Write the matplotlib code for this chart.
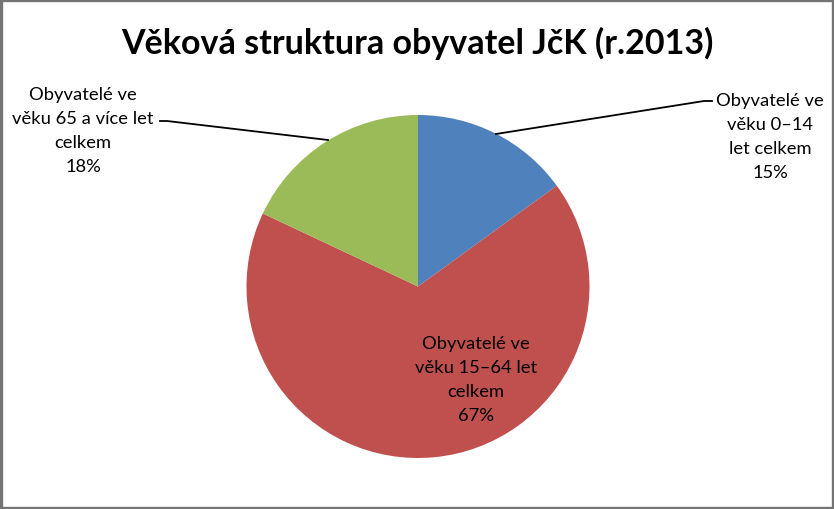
import matplotlib
matplotlib.use('Agg')
import matplotlib.pyplot as plt
from matplotlib.patches import Rectangle

plt.rcParams['font.family'] = ['Lato', 'DejaVu Sans']

title = 'Věková struktura obyvatel JčK (r.2013)'
labels = ['Obyvatelé ve\nvěku 0–14\nlet celkem', 'Obyvatelé ve\nvěku 15–64 let\ncelkem',
          'Obyvatelé ve\nvěku 65 a více let\ncelkem']
shares = [15, 67, 18]
colors = ['#4F81BD', '#C0504D', '#9BBB59']

W, H = 834, 510
fig = plt.figure(figsize=(W / 100, H / 100), dpi=100)
ax = fig.add_axes([0, 0, 1, 1])
ax.set_xlim(0, W)
ax.set_ylim(0, H)
ax.set_aspect('equal')
ax.axis('off')


def py(y):
    # picture rows count from the top
    return H - y


cx, cy, r = 418, 287.5, 171.5
wedges, _ = ax.pie(shares, colors=colors, startangle=90, counterclock=False,
                   center=(cx, py(cy)), radius=r, wedgeprops=dict(linewidth=0))
ax.set_xlim(0, W)
ax.set_ylim(0, H)

fig.text(0.5, py(43) / H, title, ha='center', va='center', fontsize=24.5,
         fontweight='bold', color='black')

pct = ['%d%%' % s for s in shares]
lab_kw = dict(ha='center', va='center', fontsize=13.2, linespacing=1.64)
# blue, outside right
ax.text(770, py(137), labels[0] + '\n' + pct[0], **lab_kw)
ax.plot([496, 704, 712], [py(135), py(102), py(102)], color='black', lw=1.3)
# red, inside
ax.text(476, py(380), labels[1] + '\n' + pct[1], **lab_kw)
# green, outside left
ax.text(83, py(131), labels[2] + '\n' + pct[2], **lab_kw)
ax.plot([328, 167, 160], [py(141), py(122), py(122)], color='black', lw=1.3)

ax.add_patch(Rectangle((1.2, 1), W - 2.2, H - 2, fill=False, edgecolor='#747474', lw=2.4))

fig.savefig('out.png', dpi=100)
